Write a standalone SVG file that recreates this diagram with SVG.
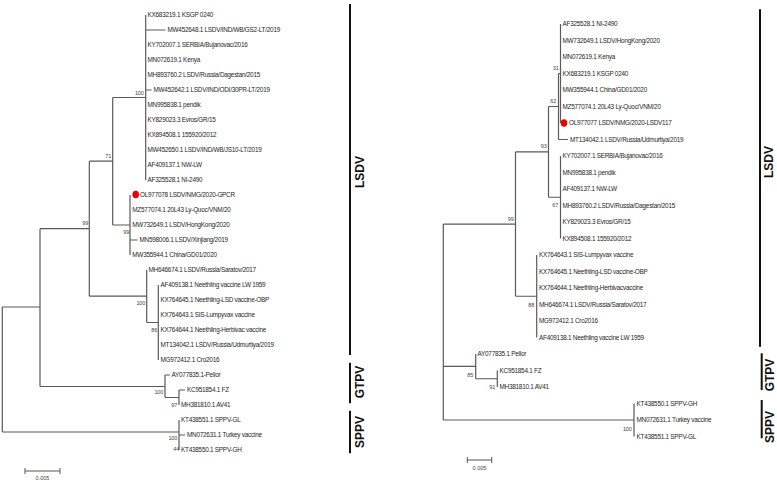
<svg xmlns="http://www.w3.org/2000/svg" width="777" height="482" viewBox="0 0 777 482">
<style>
.br{fill:none;stroke:#5a5a5a;stroke-width:1.2}
.lf{font-family:"Liberation Sans","DejaVu Sans",Arial,sans-serif;font-size:6.4px;letter-spacing:-0.25px;fill:#262626}
.bs{font-family:"Liberation Sans","DejaVu Sans",Arial,sans-serif;font-size:5.5px;letter-spacing:-0.2px;fill:#444;text-anchor:end}
.cb{fill:none;stroke:#111;stroke-width:2}
.cl{font-family:"Liberation Sans","DejaVu Sans",Arial,sans-serif;font-size:12px;font-weight:700;fill:#111;text-anchor:middle}
.dot{fill:#e8000b}
.sb{fill:none;stroke:#555;stroke-width:1}
.sbt{font-family:"Liberation Sans","DejaVu Sans",Arial,sans-serif;font-size:5.5px;fill:#444;text-anchor:middle}
</style>
<rect width="777" height="482" fill="#fff"/>
<g id="connectors">
<path class="br" d="M2.3,307V432M2.3,307H40M40,228.7V386.5M40,228.7H89.3M89.3,161.2V296.2M89.3,161.2H112.7M112.7,97.5V225M112.7,97.5H145.7M145.7,15V180M145.7,30H165.5M145.7,90H151.5M112.7,225H130M130,195V255M130,240H137.5M89.3,296.2H146.7M146.7,270V322.5M146.7,322.5H158.3M158.3,285V360M40,386.5H165M165,375V397.5M165,375H170M165,397.5H179M179,390V405M179,390H185M2.3,432H179M179,420V450M179,435H185"/>
<path class="br" d="M443.3,224.1V420M443.3,224.1H515.5M515.5,151.9V296.25M515.5,151.9H548.5M548.5,106.5V197.25M548.5,106.5H558.5M558.5,73.5V139.5M558.5,73.5H560.5M560.5,24V123M558.5,139.5H568M548.5,197.25H560.5M560.5,156V238.5M515.5,296.25H536.7M536.7,255V337.5M443.3,366.4H475.7M475.7,354V378.75M475.7,378.75H497.3M497.3,370.5V387M443.3,420H634M634,403.5V436.5"/>
</g>
<g id="left-leaves">
<g id="l0"><text class="lf" x="147.5" y="17.2">KX683219.1 KSGP 0240</text></g>
<g id="l1"><text class="lf" x="167.5" y="32.2">MW452648.1 LSDV/IND/WB/GS2-LT/2019</text></g>
<g id="l2"><text class="lf" x="147.5" y="47.2">KY702007.1 SERBIA/Bujanovac/2016</text></g>
<g id="l3"><text class="lf" x="147.5" y="62.2">MN072619.1 Kenya</text></g>
<g id="l4"><text class="lf" x="147.5" y="77.2">MH893760.2 LSDV/Russia/Dagestan/2015</text></g>
<g id="l5"><text class="lf" x="153.5" y="92.2">MW452642.1 LSDV/IND/ODI/30PR-LT/2019</text></g>
<g id="l6"><text class="lf" x="147.5" y="107.2">MN995838.1 pendik</text></g>
<g id="l7"><text class="lf" x="147.5" y="122.2">KY829023.3 Evros/GR/15</text></g>
<g id="l8"><text class="lf" x="147.5" y="137.2">KX894508.1 155920/2012</text></g>
<g id="l9"><text class="lf" x="147.5" y="152.2">MW452650.1 LSDV/IND/WB/JS10-LT/2019</text></g>
<g id="l10"><text class="lf" x="147.5" y="167.2">AF409137.1 NW-LW</text></g>
<g id="l11"><text class="lf" x="147.5" y="182.2">AF325528.1 NI-2490</text></g>
<g id="l12"><ellipse class="dot" cx="135.7" cy="194.5" rx="3.3" ry="3.8"/><text class="lf" x="140" y="197.2">OL977078 LSDV/NMG/2020-GPCR</text></g>
<g id="l13"><text class="lf" x="132.3" y="212.2">MZ577074.1 20L43 Ly-Quoc/VNM/20</text></g>
<g id="l14"><text class="lf" x="132.3" y="227.2">MW732649.1 LSDV/HongKong/2020</text></g>
<g id="l15"><text class="lf" x="139.5" y="242.2">MN598006.1 LSDV/Xinjiang/2019</text></g>
<g id="l16"><text class="lf" x="132.3" y="257.2">MW355944.1 China/GD01/2020</text></g>
<g id="l17"><text class="lf" x="148.5" y="272.2">MH646674.1 LSDV/Russia/Saratov/2017</text></g>
<g id="l18"><text class="lf" x="160.5" y="287.2">AF409138.1 Neethling vaccine LW 1959</text></g>
<g id="l19"><text class="lf" x="160.5" y="302.2">KX764645.1 Neethling-LSD vaccine-OBP</text></g>
<g id="l20"><text class="lf" x="160.5" y="317.2">KX764643.1 SIS-Lumpyvax vaccine</text></g>
<g id="l21"><text class="lf" x="160.5" y="332.2">KX764644.1 Neethling-Herbivac vaccine</text></g>
<g id="l22"><text class="lf" x="160.5" y="347.2">MT134042.1 LSDV/Russia/Udmurtiya/2019</text></g>
<g id="l23"><text class="lf" x="160.5" y="362.2">MG972412.1 Cro2016</text></g>
<g id="l24"><text class="lf" x="171.5" y="377.2">AY077835.1-Pellor</text></g>
<g id="l25"><text class="lf" x="187" y="392.2">KC951854.1 FZ</text></g>
<g id="l26"><text class="lf" x="181" y="407.2">MH381810.1 AV41</text></g>
<g id="l27"><text class="lf" x="181" y="422.2">KT438551.1 SPPV-GL</text></g>
<g id="l28"><text class="lf" x="187" y="437.2">MN072631.1 Turkey vaccine</text></g>
<g id="l29"><text class="lf" x="181" y="452.2">KT438550.1 SPPV-GH</text></g>
</g>
<g id="left-support">
<text class="bs" x="143.5" y="95">100</text>
<text class="bs" x="111" y="158">71</text>
<text class="bs" x="129" y="233.5">99</text>
<text class="bs" x="88" y="225">99</text>
<text class="bs" x="145" y="305">100</text>
<text class="bs" x="157" y="332">86</text>
<text class="bs" x="163" y="393.5">100</text>
<text class="bs" x="177" y="407">97</text>
<text class="bs" x="177" y="440">100</text>
<text class="bs" x="179" y="450.5">44</text>
</g>
<g id="left-scale">
<path class="sb" d="M25,471H60M25,468V474M60,468V474"/>
<text class="sbt" x="42.5" y="480">0.005</text>
</g>
<g id="left-clades">
<path class="cb" d="M350,4V355M350,362.7V403.3M350,410.7V453.3"/>
<text class="cl" transform="translate(364,172) rotate(-90)">LSDV</text>
<text class="cl" transform="translate(364,382) rotate(-90)">GTPV</text>
<text class="cl" transform="translate(364,432) rotate(-90)">SPPV</text>
</g>
<g id="right-leaves">
<g id="r0"><text class="lf" x="562.5" y="26.2">AF325528.1 NI-2490</text></g>
<g id="r1"><text class="lf" x="562.5" y="42.7">MW732649.1 LSDV/HongKong/2020</text></g>
<g id="r2"><text class="lf" x="562.5" y="59.2">MN072619.1 Kenya</text></g>
<g id="r3"><text class="lf" x="562.5" y="75.7">KX683219.1 KSGP 0240</text></g>
<g id="r4"><text class="lf" x="562.5" y="92.2">MW355944.1 China/GD01/2020</text></g>
<g id="r5"><text class="lf" x="562.5" y="108.7">MZ577074.1 20L43 Ly-Quoc/VNM/20</text></g>
<g id="r6"><ellipse class="dot" cx="564" cy="123" rx="3.3" ry="3.8"/><text class="lf" x="569" y="125.2">OL977077 LSDV/NMG/2020-LSDV117</text></g>
<g id="r7"><text class="lf" x="570" y="141.7">MT134042.1 LSDV/Russia/Udmurtiya/2019</text></g>
<g id="r8"><text class="lf" x="562.5" y="158.2">KY702007.1 SERBIA/Bujanovac/2016</text></g>
<g id="r9"><text class="lf" x="562.5" y="174.7">MN995838.1 pendik</text></g>
<g id="r10"><text class="lf" x="562.5" y="191.2">AF409137.1 NW-LW</text></g>
<g id="r11"><text class="lf" x="562.5" y="207.7">MH893760.2 LSDV/Russia/Dagestan/2015</text></g>
<g id="r12"><text class="lf" x="562.5" y="224.2">KY829023.3 Evros/GR/15</text></g>
<g id="r13"><text class="lf" x="562.5" y="240.7">KX894508.1 155920/2012</text></g>
<g id="r14"><text class="lf" x="539" y="257.2">KX764643.1 SIS-Lumpyvax vaccine</text></g>
<g id="r15"><text class="lf" x="539" y="273.7">KX764645.1 Neethling-LSD vaccine-OBP</text></g>
<g id="r16"><text class="lf" x="539" y="290.2">KX764644.1 Neethling-Herbivacvaccine</text></g>
<g id="r17"><text class="lf" x="539" y="306.7">MH646674.1 LSDV/Russia/Saratov/2017</text></g>
<g id="r18"><text class="lf" x="539" y="323.2">MG972412.1 Cro2016</text></g>
<g id="r19"><text class="lf" x="539" y="339.7">AF409138.1 Neethling vaccine LW 1959</text></g>
<g id="r20"><text class="lf" x="477.5" y="356.2">AY077835.1 Pellor</text></g>
<g id="r21"><text class="lf" x="499.5" y="372.7">KC951854.1 FZ</text></g>
<g id="r22"><text class="lf" x="499.5" y="389.2">MH381810.1 AV41</text></g>
<g id="r23"><text class="lf" x="636.5" y="405.7">KT438550.1 SPPV-GH</text></g>
<g id="r24"><text class="lf" x="636.5" y="422.2">MN072631.1 Turkey vaccine</text></g>
<g id="r25"><text class="lf" x="636.5" y="438.7">KT438551.1 SPPV-GL</text></g>
</g>
<g id="right-support">
<text class="bs" x="558.5" y="70">31</text>
<text class="bs" x="556" y="103">62</text>
<text class="bs" x="546.5" y="148">93</text>
<text class="bs" x="558" y="206.5">67</text>
<text class="bs" x="513.5" y="221">99</text>
<text class="bs" x="534" y="307">88</text>
<text class="bs" x="473" y="376.5">85</text>
<text class="bs" x="495" y="389">91</text>
<text class="bs" x="631.5" y="430.5">100</text>
</g>
<g id="right-scale">
<path class="sb" d="M467.3,460H491.7M467.3,457V463M491.7,457V463"/>
<text class="sbt" x="479.5" y="470">0.005</text>
</g>
<g id="right-clades">
<path class="cb" d="M760,9.3V346.7M761.7,353.3V390M761.7,400V438.3"/>
<text class="cl" transform="translate(773,162) rotate(-90)">LSDV</text>
<text class="cl" transform="translate(773.5,375) rotate(-90)">GTPV</text>
<text class="cl" transform="translate(773.5,427) rotate(-90)">SPPV</text>
</g>
</svg>
